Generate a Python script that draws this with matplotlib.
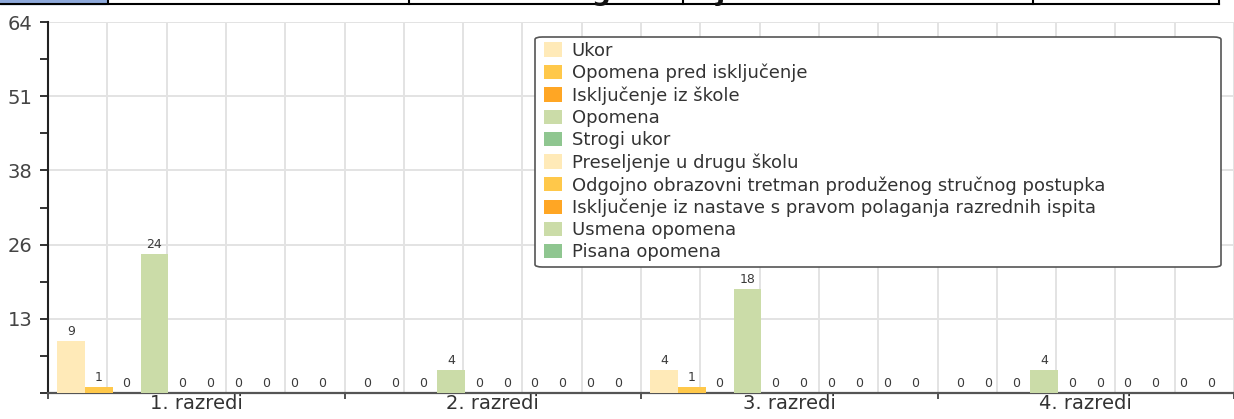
import numpy as np
import matplotlib
matplotlib.use("Agg")
from matplotlib import pyplot as plt
from matplotlib import patches

plt.rcParams['font.family'] = ['DejaVu Sans']

# data
razredi = ["1. razredi", "2. razredi", "3. razredi", "4. razredi"]
mjere = ["Ukor", "Opomena pred isključenje", "Isključenje iz škole", "Opomena",
         "Strogi ukor", "Preseljenje u drugu školu",
         "Odgojno obrazovni tretman produženog stručnog postupka",
         "Isključenje iz nastave s pravom polaganja razrednih ispita",
         "Usmena opomena", "Pisana opomena"]
vrijednosti = [
    [9, 0, 4, 0],
    [1, 0, 1, 0],
    [0, 0, 0, 0],
    [24, 4, 18, 4],
    [0, 0, 0, 0],
    [0, 0, 0, 0],
    [0, 0, 0, 0],
    [0, 0, 0, 0],
    [0, 0, 0, 0],
    [0, 0, 0, 0],
]
boje = ["#FFEAB8", "#FFC84A", "#FFA624", "#CBDCA8", "#8FC690",
        "#FFEAB8", "#FFC84A", "#FFA624", "#CBDCA8", "#8FC690"]
y_max = 64
y_oznake = ["13", "26", "38", "51", "64"]
naslov = "Pedagoške mjere"

W, H = 1234, 419
fig = plt.figure(figsize=(W / 100, H / 100), dpi=100)
ax = fig.add_axes([48 / W, 26 / H, 1 - 48 / W, (393 - 22) / H])

n = len(mjere)
pad = 0.03
bw = (1 - 2 * pad) / n
x = np.arange(len(razredi))

for i, (ime, vals, c) in enumerate(zip(mjere, vrijednosti, boje)):
    pos = x - 0.5 + pad + bw * (i + 0.5)
    ax.bar(pos, vals, width=bw, color=c, label=ime, zorder=3, linewidth=0)
    for px, v in zip(pos, vals):
        ax.annotate(str(v), (px, v), xytext=(0, 2), textcoords="offset points",
                    ha="center", va="bottom", fontsize=9, color="#3a3a3a", zorder=4)

ax.set_xlim(-0.5, len(razredi) - 0.5)
ax.set_ylim(0, y_max)

# grid
for k in range(1, 21):
    ax.axvline(-0.5 + k * 0.2, color="#E3E3E3", lw=1.4, zorder=1)
major = [y_max * k / 5 for k in range(1, 6)]
for yv in major:
    ax.axhline(yv, color="#E3E3E3", lw=1.4, zorder=1)

ax.set_yticks([0] + major)
ax.set_yticklabels([""] + y_oznake)
ax.set_yticks([y_max * (k + 0.5) / 5 for k in range(5)], minor=True)
ax.tick_params(axis="y", which="both", length=6, width=1.3, color="#222222",
               labelsize=14, labelcolor="#444444", pad=5)

ax.set_xticks(np.arange(-0.5, len(razredi) + 0.5, 1.0))
ax.set_xticklabels([])
ax.set_xticks(x, minor=True)
ax.set_xticklabels(razredi, minor=True)
ax.tick_params(axis="x", which="major", length=4, width=1.3, color="#444444")
ax.tick_params(axis="x", which="minor", length=0, labelsize=14,
               labelcolor="#333333", pad=1)

for s in ["top", "right"]:
    ax.spines[s].set_visible(False)
ax.spines["left"].set_color("#222222")
ax.spines["left"].set_linewidth(1.5)
ax.spines["bottom"].set_color("#555555")
ax.spines["bottom"].set_linewidth(1.6)

# legend frame drawn separately so it can span the same width as the original
okvir = patches.FancyBboxPatch((535 / W, 1 - 267 / H), (1221 - 535) / W, (267 - 37) / H,
                               boxstyle="round,pad=0,rounding_size=0.006",
                               transform=fig.transFigure, facecolor="white",
                               edgecolor="#555555", linewidth=1.2, zorder=5,
                               clip_on=False)
ax.add_artist(okvir)
leg = ax.legend(loc="upper left", bbox_to_anchor=(540 / W, 1 - 38 / H),
                bbox_transform=fig.transFigure, borderaxespad=0,
                fontsize=13, frameon=False,
                handlelength=1.0, handleheight=0.85, handletextpad=0.55,
                labelspacing=0.23, borderpad=0.2)
leg.set_zorder(6)
for t in leg.get_texts():
    t.set_color("#333333")

# remnant of the table and title above the chart
fig.add_artist(patches.Rectangle((0, 1 - 4 / H), 106 / W, 4 / H,
                                 transform=fig.transFigure, color="#8EA9DB"))
fig.add_artist(plt.Line2D([0, 1219 / W], [1 - 4.5 / H, 1 - 4.5 / H],
                          transform=fig.transFigure, color="black", lw=1.5))
for xv in [108, 409, 683, 1033, 1219]:
    fig.add_artist(plt.Line2D([xv / W, xv / W], [1 - 4.5 / H, 1],
                              transform=fig.transFigure, color="black", lw=1.5))
fig.text(518 / W, 1 - 0.5 / H, naslov, fontsize=19, fontweight="bold",
         color="#111111", ha="left", va="baseline")

fig.savefig("out.png", dpi=100)
